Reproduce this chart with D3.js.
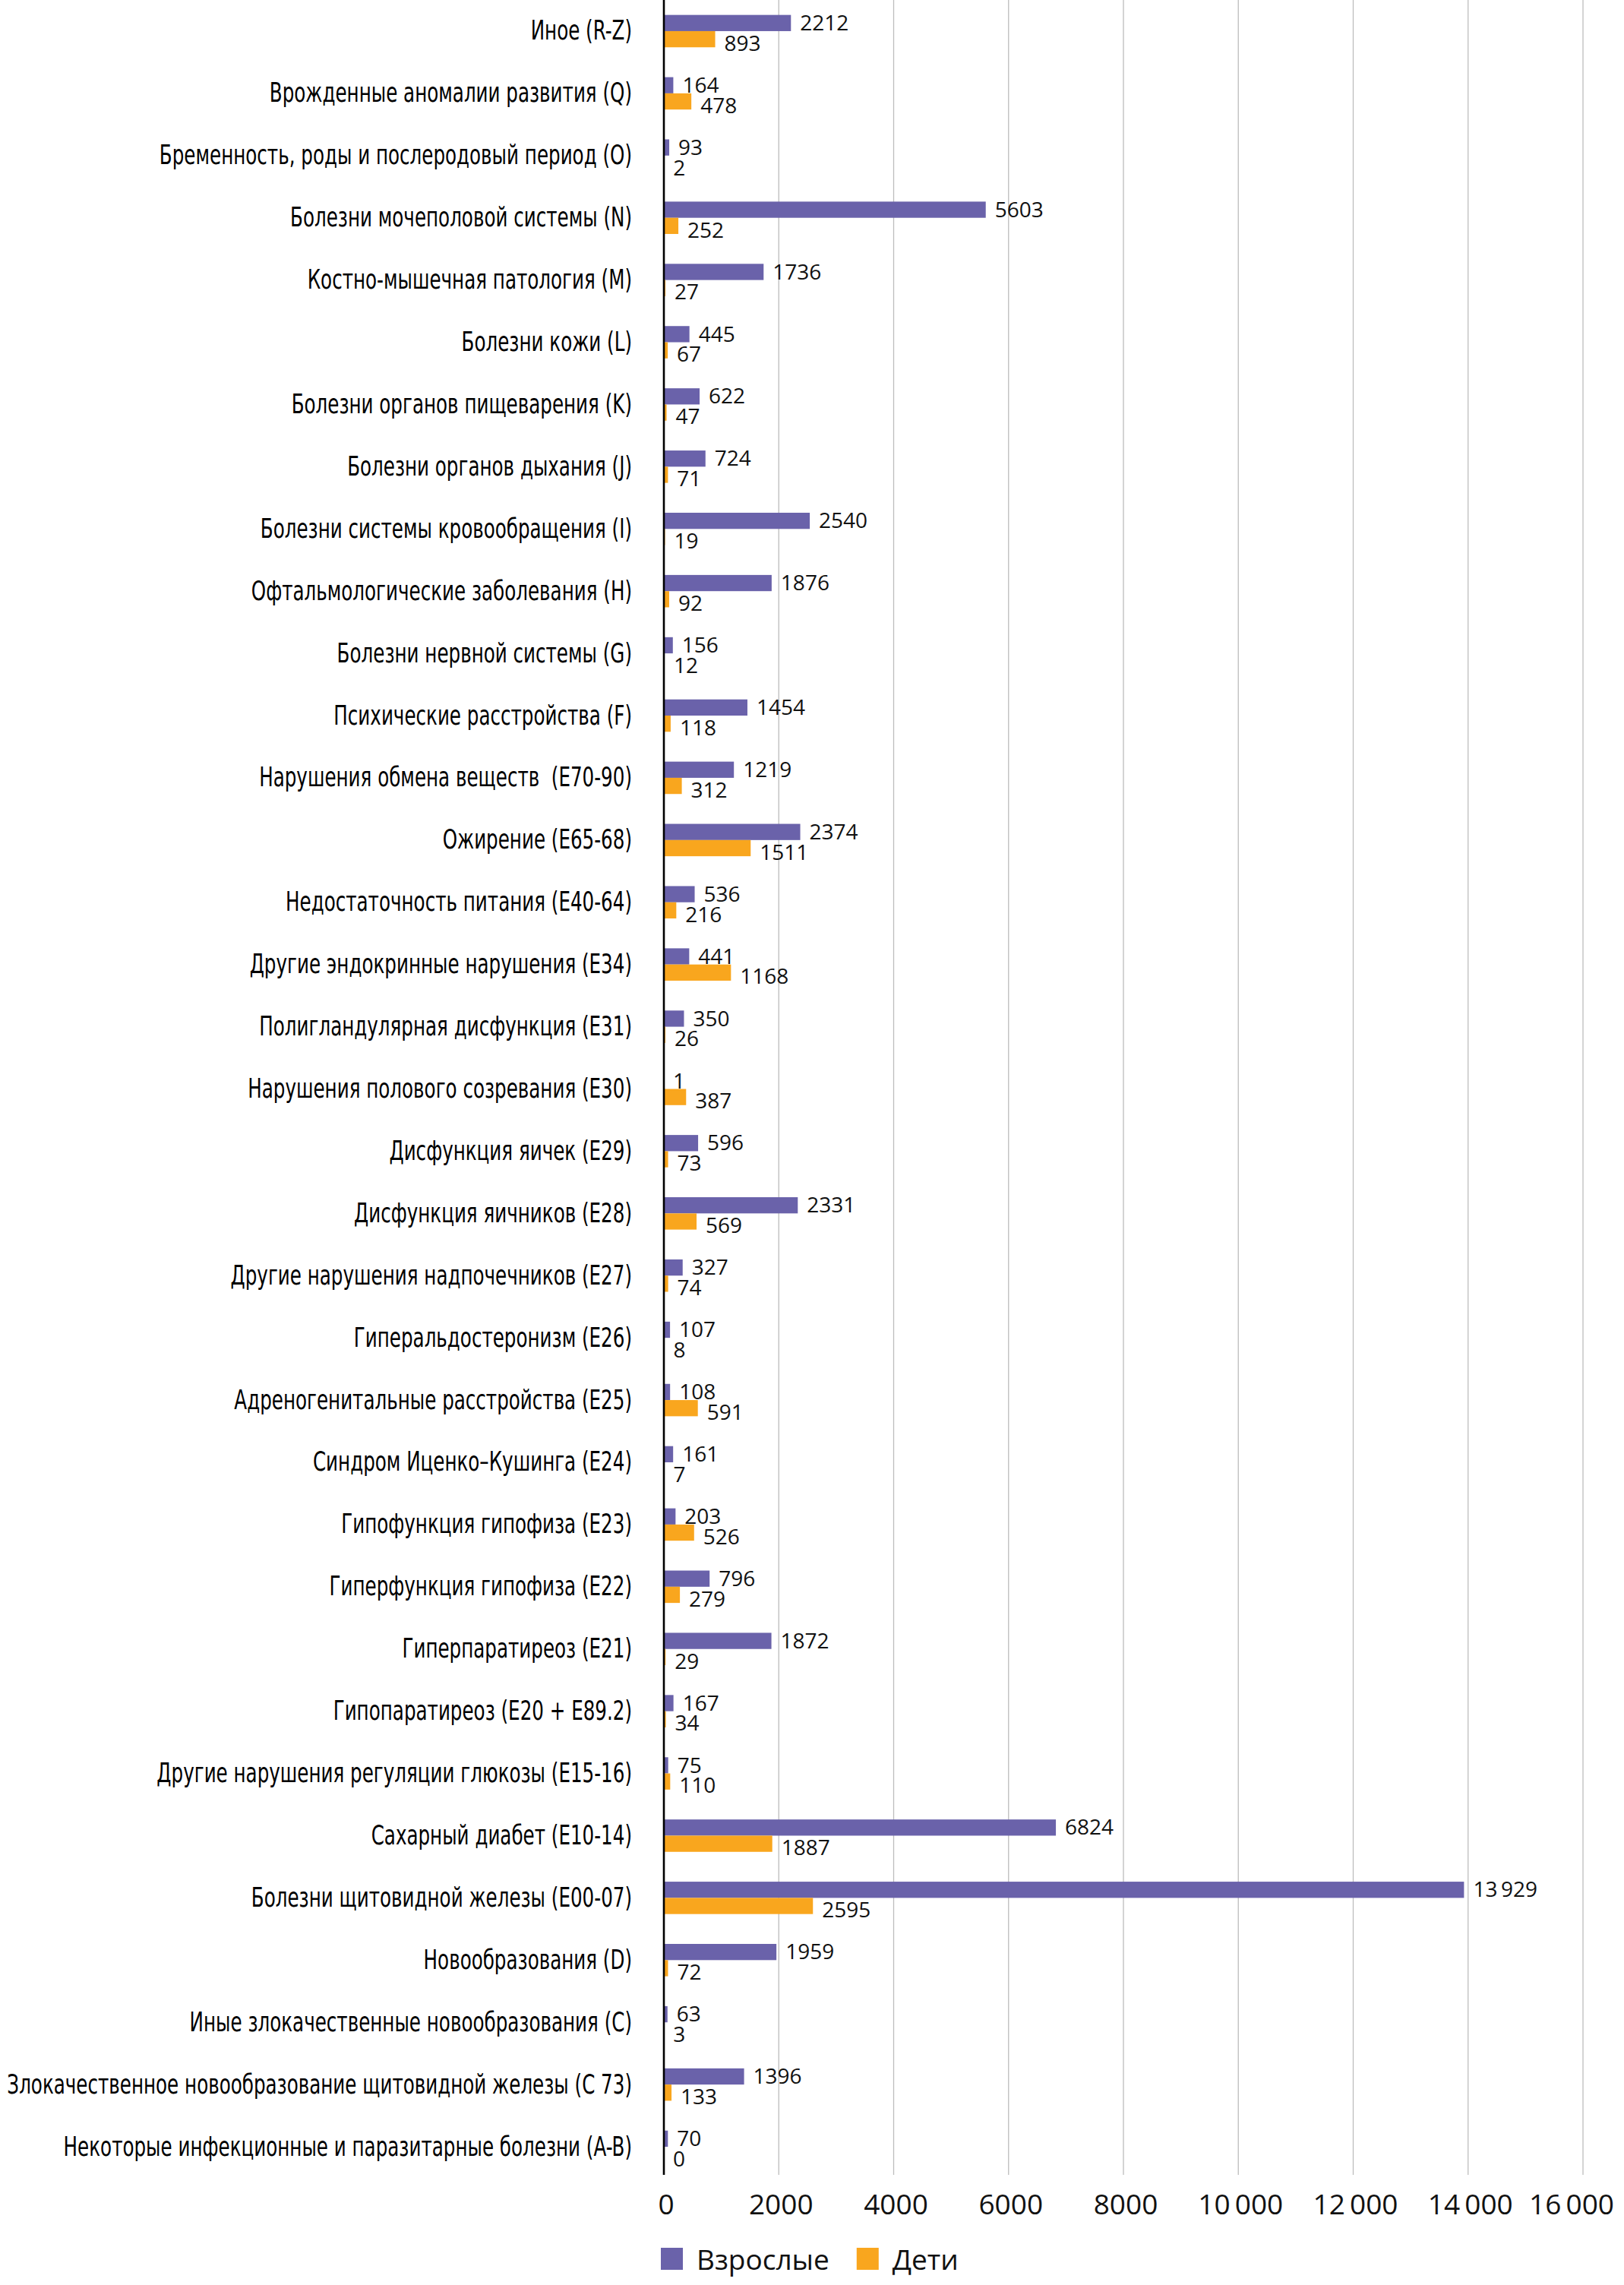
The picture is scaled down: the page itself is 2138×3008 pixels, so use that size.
<!DOCTYPE html>
<html><head><meta charset="utf-8">
<script src="https://cdn.jsdelivr.net/npm/d3@7"></script>
<style>html,body{margin:0;padding:0;background:#fff;}svg{display:block;}</style>
</head><body>
<script>
const categories = [
 "Иное (R-Z)",
 "Врожденные аномалии развития (Q)",
 "Бременность, роды и послеродовый период (O)",
 "Болезни мочеполовой системы (N)",
 "Костно-мышечная патология (M)",
 "Болезни кожи (L)",
 "Болезни органов пищеварения (K)",
 "Болезни органов дыхания (J)",
 "Болезни системы кровообращения (I)",
 "Офтальмологические заболевания (H)",
 "Болезни нервной системы (G)",
 "Психические расстройства (F)",
 "Нарушения обмена веществ  (E70-90)",
 "Ожирение (E65-68)",
 "Недостаточность питания (E40-64)",
 "Другие эндокринные нарушения (E34)",
 "Полигландулярная дисфункция (E31)",
 "Нарушения полового созревания (E30)",
 "Дисфункция яичек (E29)",
 "Дисфункция яичников (E28)",
 "Другие нарушения надпочечников (E27)",
 "Гиперальдостеронизм (E26)",
 "Адреногенитальные расстройства (E25)",
 "Синдром Иценко–Кушинга (E24)",
 "Гипофункция гипофиза (E23)",
 "Гиперфункция гипофиза (E22)",
 "Гиперпаратиреоз (E21)",
 "Гипопаратиреоз (E20 + E89.2)",
 "Другие нарушения регуляции глюкозы (E15-16)",
 "Сахарный диабет (E10-14)",
 "Болезни щитовидной железы (E00-07)",
 "Новообразования (D)",
 "Иные злокачественные новообразования (C)",
 "Злокачественное новообразование щитовидной железы (С 73)",
 "Некоторые инфекционные и паразитарные болезни (A-B)"
];
const adults = [2212,164,93,5603,1736,445,622,724,2540,1876,156,1454,1219,2374,536,441,350,1,596,2331,327,107,108,161,203,796,1872,167,75,6824,13929,1959,63,1396,70];
const children = [893,478,2,252,27,67,47,71,19,92,12,118,312,1511,216,1168,26,387,73,569,74,8,591,7,526,279,29,34,110,1887,2595,72,3,133,0];
const seriesNames = ["Взрослые","Дети"];
const tickValues = [0,2000,4000,6000,8000,10000,12000,14000,16000];

const W = 2138, H = 3008;
const colors = ["#6A62AA", "#F9A61E"];
const svg = d3.select("body").append("svg").attr("width", W).attr("height", H);

const x = d3.scaleLinear().domain([0,16000]).range([874,2084]);
const y = d3.scaleBand().domain(categories).range([0,2867]);
const barH = 21.3;
const fmt = v => v >= 10000 ? d3.format(",")(v).replace(/,/g, "\u2009") : String(v);

// gridlines
svg.append("g").selectAll("line").data(tickValues.filter(t => t > 0)).join("line")
  .attr("x1", d => x(d)).attr("x2", d => x(d)).attr("y1", 0).attr("y2", 2863)
  .attr("stroke", "#bdbdbd").attr("stroke-width", 1.3);

const rows = categories.map((c,i) => ({c, a: adults[i], k: children[i]}));

// bars
const g = svg.append("g");
g.selectAll("rect.a").data(rows).join("rect").attr("class","a")
  .attr("x", x(0)).attr("y", d => y(d.c) + y.bandwidth()/2 - barH)
  .attr("width", d => x(d.a) - x(0)).attr("height", barH).attr("fill", colors[0]);
g.selectAll("rect.k").data(rows).join("rect").attr("class","k")
  .attr("x", x(0)).attr("y", d => y(d.c) + y.bandwidth()/2)
  .attr("width", d => x(d.k) - x(0)).attr("height", barH).attr("fill", colors[1]);

// value labels
const vf = "'Open Sans', 'Noto Sans', sans-serif";
g.selectAll("text.va").data(rows).join("text").attr("class","va")
  .attr("x", d => x(d.a) + 12).attr("y", d => y(d.c) + y.bandwidth()/2 - 1)
  .attr("font-family", vf).attr("font-size", 28).attr("fill", "#111").text(d => fmt(d.a));
g.selectAll("text.vk").data(rows).join("text").attr("class","vk")
  .attr("x", d => x(d.k) + 12).attr("y", d => y(d.c) + y.bandwidth()/2 + barH + 4.5)
  .attr("font-family", vf).attr("font-size", 28).attr("fill", "#111").text(d => fmt(d.k));

// axis line
svg.append("line").attr("x1", x(0)).attr("x2", x(0)).attr("y1", 0).attr("y2", 2863)
  .attr("stroke", "#000").attr("stroke-width", 2.6);

// category labels
const cl = svg.append("g").selectAll("text").data(categories).join("text")
  .attr("text-anchor", "end")
  .attr("font-family", "'Liberation Sans Narrow', 'DejaVu Sans Condensed', sans-serif")
  .attr("font-size", 35).attr("fill", "#000")
  .attr("xml:space", "preserve")
  .style("white-space", "pre")
  .text(d => d);
let maxLen = 0;
cl.each(function(){ maxLen = Math.max(maxLen, this.getComputedTextLength()); });
const kx = maxLen > 0 ? 823 / maxLen : 1;
cl.attr("transform", d => `translate(832,${y(d) + y.bandwidth()/2 + 11.5}) scale(${kx},1)`);

// tick labels
const tl = svg.append("g").selectAll("text").data(tickValues).join("text")
  .attr("text-anchor", "middle").attr("x", d => x(d) + 3).attr("y", 2915)
  .attr("font-family", vf).attr("font-size", 37).attr("fill", "#111")
  .text(d => fmt(d));
tl.each(function(){
  const b = this.getBBox();
  if (b.x + b.width > 2125) d3.select(this).attr("x", +d3.select(this).attr("x") - (b.x + b.width - 2125));
});

// legend
const lg = svg.append("g");
let lx = 870;
seriesNames.forEach((n,i) => {
  lg.append("rect").attr("x", lx).attr("y", 2959).attr("width", 29).attr("height", 29).attr("fill", colors[i]);
  const t = lg.append("text").attr("x", lx + 47).attr("y", 2988)
    .attr("font-family", vf).attr("font-size", 37).attr("fill", "#111").text(n);
  lx = lx + 47 + t.node().getComputedTextLength() + 36;
});
</script>
</body></html>
